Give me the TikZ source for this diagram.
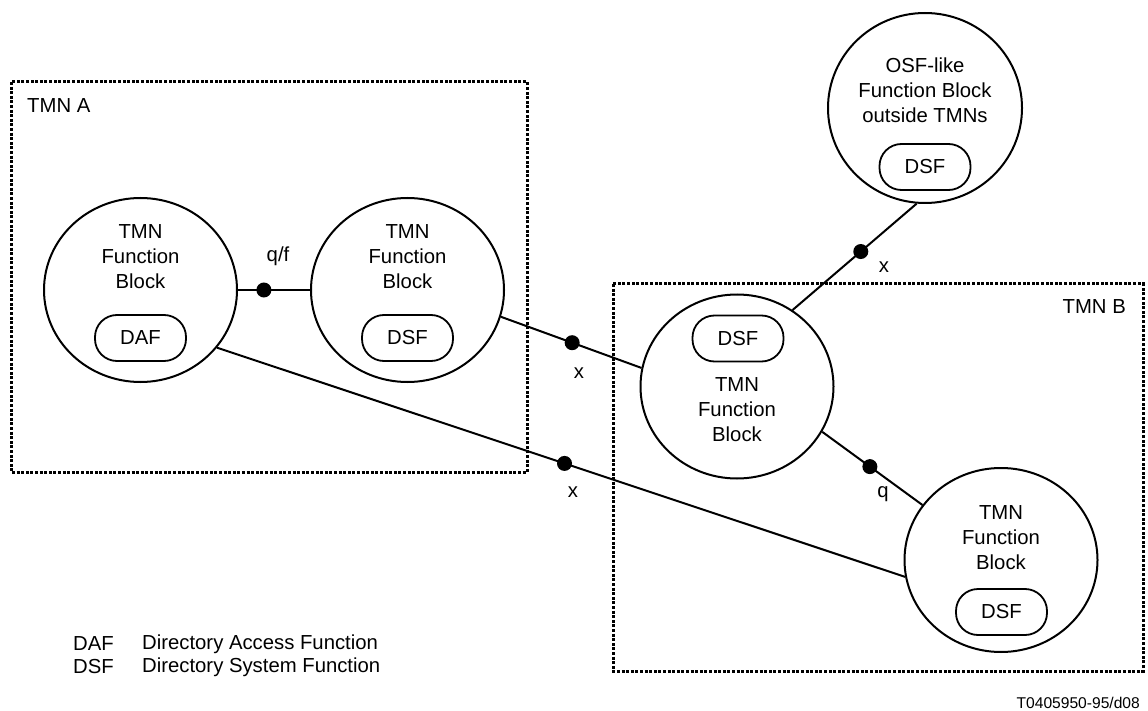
\documentclass[tikz,border=0pt]{standalone}
\usepackage{fontspec}
\setmainfont{Liberation Sans}
\usetikzlibrary{shapes.geometric}
\begin{document}
\begin{tikzpicture}[x=1pt,y=-1pt,
  fb/.style={draw, ellipse, line width=2pt, minimum width=193pt, minimum height=184pt, inner sep=0pt},
  fnbox/.style={draw, rounded corners=22pt, line width=1.8pt, minimum width=91pt, minimum height=46pt, inner sep=0pt, font=\fontsize{20.3}{25}\selectfont},
  lbl/.style={inner sep=0pt, font=\fontsize{20.3}{25}\selectfont, align=center},
  link/.style={line width=2pt},
  dot/.style={circle, fill, inner sep=0pt, minimum size=15pt},
  region/.style={line width=3pt, dash pattern=on 3pt off 1.6pt}
]
\useasboundingbox (0,0) rectangle (1148,711);

% regions
\draw[region] (11,82) rectangle (527,472);
\draw[region] (613,284) rectangle (1143,671);
\node[lbl, anchor=west] (ta) at (27,106) {TMN A};
\node[lbl, anchor=east] (tb) at (1126,307) {TMN B};

% function blocks
\node[fb] (c1) at (140.5,290) {};
\node[lbl] (t1) at (140.5,257) {TMN\\Function\\Block};
\node[fnbox] (f1) at (140.5,338) {DAF};

\node[fb] (c2) at (407.5,290) {};
\node[lbl] (t2) at (407.5,257) {TMN\\Function\\Block};
\node[fnbox] (f2) at (407.5,338) {DSF};

\node[fb, minimum width=194pt, minimum height=190pt] (c3) at (925,108) {};
\node[lbl] (t3) at (925,90) {OSF-like\\Function Block\\outside TMNs};
\node[fnbox] (f3) at (925,167) {DSF};

\node[fb] (c4) at (737,386.5) {};
\node[fnbox] (f4) at (738,338.5) {DSF};
\node[lbl] (t4) at (737,409.5) {TMN\\Function\\Block};

\node[fb] (c5) at (1001,560) {};
\node[lbl] (t5) at (1001,538) {TMN\\Function\\Block};
\node[fnbox] (f5) at (1001.5,612) {DSF};

% connectors
\draw[link] (c1.0) -- node[dot, pos=0.36] (p1) {} (c2.180);
\draw[link] (c2.-16) -- node[dot, pos=0.507] (p2) {} (c4.169);
\draw[link] (c1.-37.6) -- node[dot, pos=0.505] (p3) {} (c5.190);
\draw[link] (c4.54.5) -- node[dot, pos=0.55] (p4) {} (c3.-95);
\draw[link] (c4.-28.7) -- node[dot, pos=0.476] (p5) {} (c5.145.8);

% interface labels
\node[lbl] (l1) at (278,256.5) {q/f};
\node[lbl] (l2) at (579,373) {x};
\node[lbl] (l3) at (573,492) {x};
\node[lbl] (l4) at (884,267) {x};
\node[lbl] (l5) at (883,494) {q};

% legend
\node[lbl, anchor=west] (k1) at (73,644) {DAF};
\node[lbl, anchor=west] (k2) at (142,644) {Directory Access Function};
\node[lbl, anchor=west] (k3) at (73,667) {DSF};
\node[lbl, anchor=west] (k4) at (142,667) {Directory System Function};

\node[inner sep=0pt, anchor=east, font=\fontsize{15.6}{18}\selectfont] (fig) at (1140,702.5) {T0405950-95/d08};
\end{tikzpicture}
\end{document}
